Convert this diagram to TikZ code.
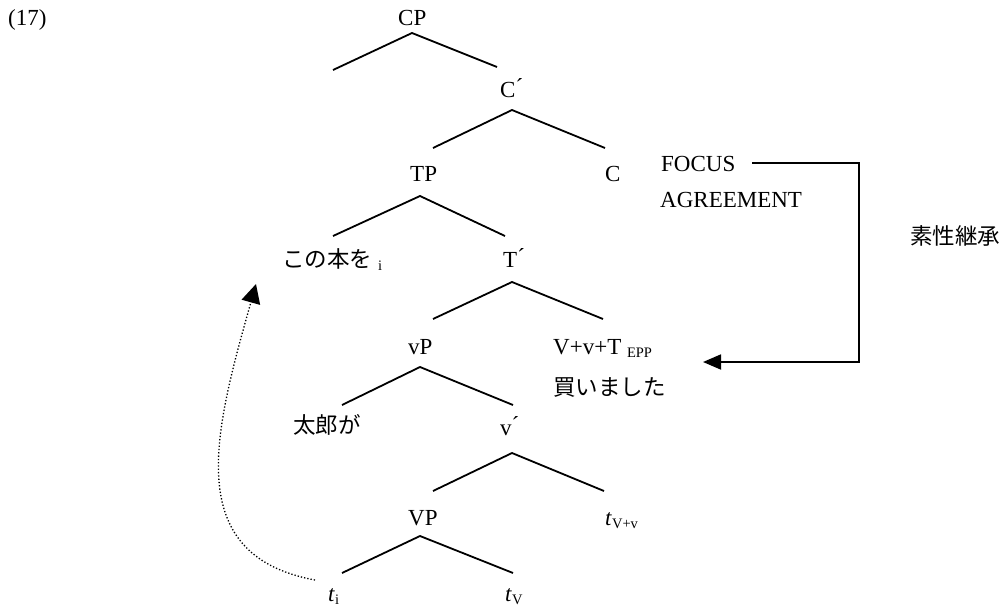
\documentclass[tikz,border=0pt]{standalone}
\usepackage{fontspec}
\setmainfont{Liberation Serif}
\newfontfamily\jp{Noto Sans CJK JP}
\usetikzlibrary{arrows.meta}
\newcommand\lsub[1]{\raisebox{-3.5pt}{\rmfamily\upshape\fontsize{14.5}{16}\selectfont #1}}
\newcommand\bprime{\raisebox{2.5pt}{´}}
\begin{document}
\begin{tikzpicture}[x=1pt,y=-1pt,
  lbl/.style={anchor=base west, inner sep=0pt, font=\fontsize{23}{27}\selectfont},
  jlbl/.style={anchor=base west, inner sep=0pt, font=\jp\fontsize{22.5}{27}\selectfont},
  branch/.style={line width=1.8pt},
  feat/.style={line width=1.8pt, -{Triangle[length=18pt,width=15pt]}},
  move/.style={line width=1.3pt, dotted, -{Triangle[length=19pt,width=19pt]}},
]
\useasboundingbox (0,0) rectangle (1003,608);

% labels
\node[lbl] (n17) at (8,25) {(17)};
\node[lbl] (CP) at (398,25) {CP};
\node[lbl] (Cbar) at (500,97) {C\bprime};
\node[lbl] (TP) at (410,181) {TP};
\node[lbl] (C) at (605,181) {C};
\node[lbl] (focus) at (661,171) {FOCUS};
\node[lbl] (agr) at (660,207) {AGREEMENT};
\node[jlbl] (inherit) at (910,244) {素性継承};
\node[jlbl] (kono) at (282,267) {この本を\hspace{6pt}\lsub{i}};
\node[lbl] (Tbar) at (503,267) {T\bprime};
\node[lbl] (vP) at (408,354) {vP};
\node[lbl] (VvT) at (553,354) {V+v+T \lsub{EPP}};
\node[jlbl] (kaimashita) at (553,395) {買いました};
\node[jlbl] (taro) at (293,433) {太郎が};
\node[lbl] (vbar) at (500,435) {v\bprime};
\node[lbl] (VP) at (408,525) {VP};
\node[lbl] (tVv) at (605,525) {\textit{t}\lsub{V+v}};
\node[lbl] (ti) at (328,601) {\textit{t}\lsub{i}};
\node[lbl] (tV) at (505,601) {\textit{t}\lsub{V}};

% branch points
\coordinate (aCP) at (412,33);  \coordinate (lCP) at (333,70);  \coordinate (rCP) at (497,67);
\coordinate (aC)  at (512,110); \coordinate (lC)  at (433,148); \coordinate (rC)  at (605,148);
\coordinate (aTP) at (420,196); \coordinate (lTP) at (333,236); \coordinate (rTP) at (505,236);
\coordinate (aT)  at (512,282); \coordinate (lT)  at (433,319); \coordinate (rT)  at (603,319);
\coordinate (avP) at (420,367); \coordinate (lvP) at (342,405); \coordinate (rvP) at (513,405);
\coordinate (av)  at (512,453); \coordinate (lv)  at (433,491); \coordinate (rv)  at (604,491);
\coordinate (aVP) at (420,536); \coordinate (lVP) at (342,573); \coordinate (rVP) at (513,573);

\foreach \n in {CP,C,TP,T,vP,v,VP}{
  \draw[branch] (l\n) -- (a\n) -- (r\n);
}

% feature inheritance arrow
\coordinate (fstart) at (752,163);
\coordinate (fcorner) at (859,163);
\coordinate (ftip) at (703,362);
\draw[feat] (fstart) -- (fcorner) |- (ftip);

% movement arrow
\coordinate (mstart) at (315,580);
\coordinate (mend) at (256,284);
\draw[move] (mstart) .. controls (180,555) and (215,430) .. (mend);
\end{tikzpicture}
\end{document}
